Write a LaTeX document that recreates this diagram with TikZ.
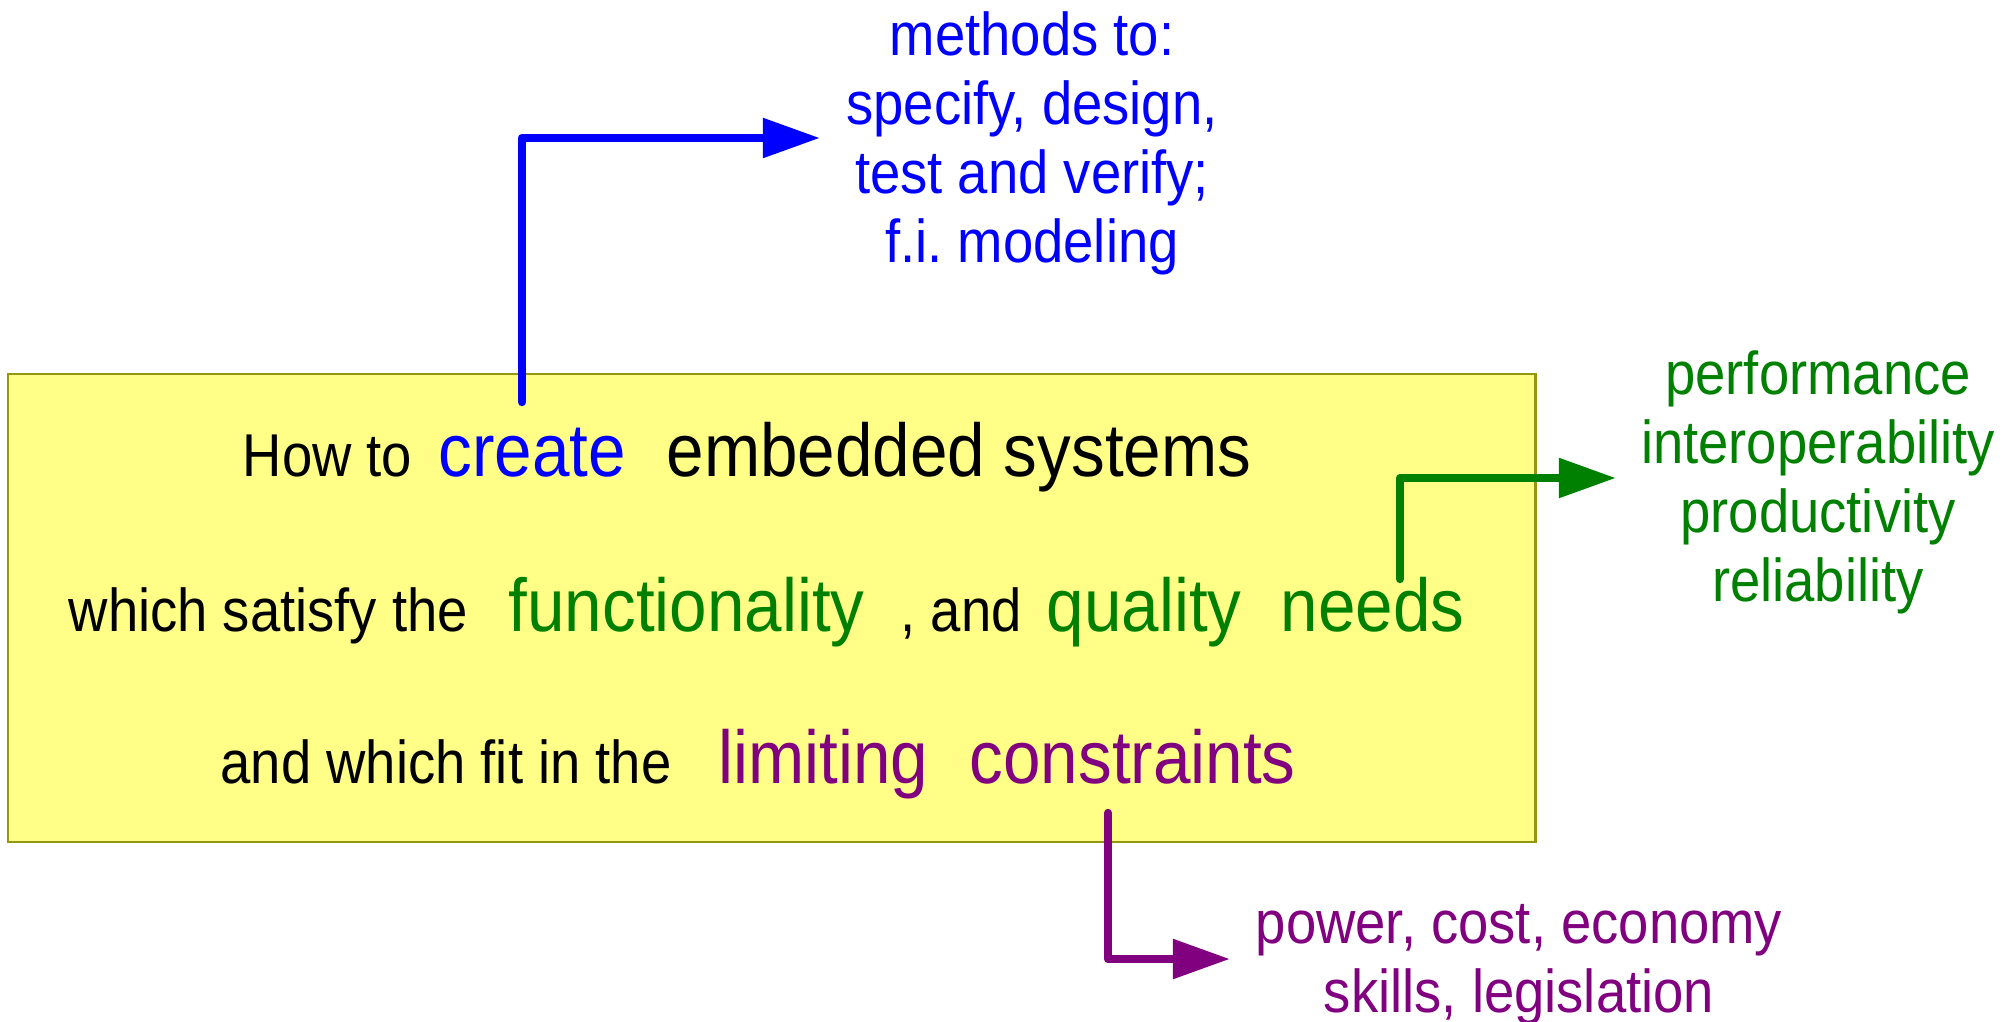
\documentclass[tikz,border=0pt]{standalone}
\usepackage{fontspec}
\setmainfont[FakeStretch=0.9]{Liberation Sans}
\usetikzlibrary{arrows.meta}
\frenchspacing
\definecolor{cblue}{RGB}{0,0,255}
\definecolor{cgreen}{RGB}{0,128,0}
\definecolor{cpurple}{RGB}{128,0,128}
\definecolor{cyellow}{RGB}{255,255,136}
\definecolor{cborder}{RGB}{150,150,20}
\tikzset{
  small/.style={inner sep=0pt, font=\fontsize{17.2}{19.6}\selectfont},
  big/.style={inner sep=0pt, font=\fontsize{21.3}{24}\selectfont},
  wrd/.style={anchor=base west},
  conn/.style={line width=2.4pt, line cap=round, line join=round,
    -{Triangle[length=0.57cm, width=0.38cm]}},
  lst/.style={small, align=center},
}
\begin{document}
\begin{tikzpicture}[x=0.01cm, y=-0.01cm]
\useasboundingbox (0,0) rectangle (2007,1021);
\node[draw=cborder, fill=cyellow, line width=0.6pt, minimum width=15.27cm, minimum height=4.68cm, inner sep=0pt] (box) at (771.5,608) {};
% line 1
\node[small, wrd] (howto) at (242,476) {How to};
\node[big, wrd, text=cblue] (create) at (438,476) {create};
\node[big, wrd] (embedded) at (666,476) {embedded systems};
% line 2
\node[small, wrd] (which) at (68,631) {which satisfy the};
\node[big, wrd, text=cgreen] (functionality) at (508,631) {functionality};
\node[small, wrd] (and) at (900,631) {, and};
\node[big, wrd, text=cgreen] (quality) at (1046,631) {quality};
\node[big, wrd, text=cgreen] (needs) at (1280,631) {needs};
% line 3
\node[small, wrd] (fit) at (220,783) {and which fit in the};
\node[big, wrd, text=cpurple] (limiting) at (718,783) {limiting};
\node[big, wrd, text=cpurple] (constraints) at (969,783) {constraints};
% side lists
\node[lst, text=cblue] (methods) at (1032,143) {methods to:\\specify, design,\\test and verify;\\f.i.\ modeling};
\node[lst, text=cgreen] (perf) at (1818,482) {performance\\interoperability\\productivity\\reliability};
\node[lst, text=cpurple] (power) at (1519,965) {power, cost, economy\\skills, legislation};
% connectors
\coordinate (bs) at (522,402);
\coordinate (bt) at (820,138);
\coordinate (gs) at (1400,579);
\coordinate (gt) at (1616,478);
\coordinate (ps) at (1108,813);
\coordinate (pt) at (1230,959);
\draw[conn, cblue] (bs) |- (bt);
\draw[conn, cgreen] (gs) |- (gt);
\draw[conn, cpurple] (ps) |- (pt);
\end{tikzpicture}
\end{document}
